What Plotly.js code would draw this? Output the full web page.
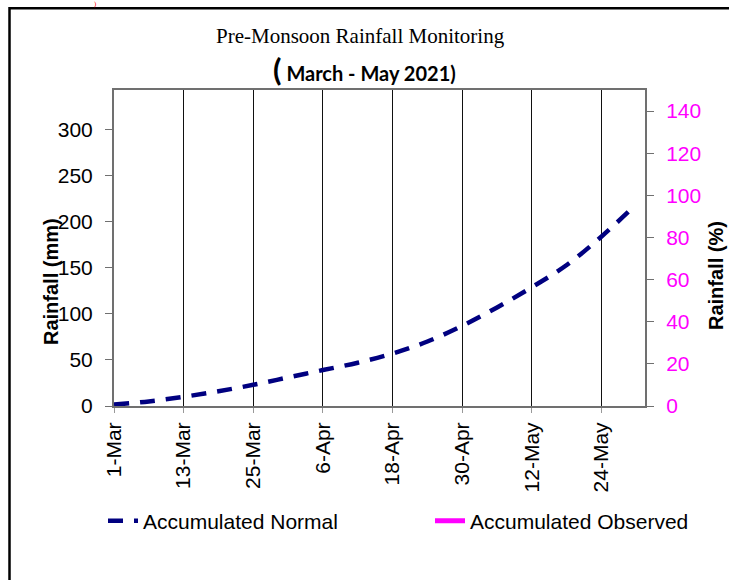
<!DOCTYPE html>
<html>
<head>
<meta charset="utf-8">
<script src="https://cdn.plot.ly/plotly-3.0.1.min.js"></script>
<style>
  html, body { margin: 0; padding: 0; background: #ffffff; }
  #chart { width: 729px; height: 580px; }
</style>
</head>
<body>
<div id="chart"></div>
<script>
// ---- data ----
const normalDates = ['2021-03-01','2021-03-07','2021-03-13','2021-03-19','2021-03-25','2021-03-31',
                     '2021-04-06','2021-04-12','2021-04-18','2021-04-24','2021-04-30','2021-05-06',
                     '2021-05-12','2021-05-18','2021-05-24','2021-05-29'];
const normalValues = [1.5, 5, 10, 16, 23, 31, 39, 47, 57, 70, 87, 107, 129, 153, 184, 213];
const observedDates = ['2021-03-01'];
const observedValues = [null];      // no observed data drawn in the reference
const percentValues = [null];       // right-axis (%) series, empty in the reference
const seriesNames = ['Accumulated Normal', 'Accumulated Observed'];
const titleLine1 = 'Pre-Monsoon Rainfall Monitoring';
const titleLine2 = 'March - May 2021)';
const leftTitle = 'Rainfall (mm)';
const rightTitle = 'Rainfall (%)';

// ---- layout helpers (pixel -> paper) ----
const W = 729, H = 580;
const M = { l: 114, r: 84, t: 90, b: 174 };
const PW = W - M.l - M.r, PH = H - M.t - M.b;
const px = x => (x - M.l) / PW;
const py = y => (H - M.b - y) / PH;

const traces = [
  {
    x: normalDates, y: normalValues, name: seriesNames[0],
    type: 'scatter', mode: 'lines', line: { color: '#000080', width: 4.5, dash: '15px,11px', shape: 'spline' },
    yaxis: 'y', legend: 'legend'
  },
  {
    x: observedDates, y: observedValues, name: seriesNames[1],
    type: 'scatter', mode: 'lines', line: { color: '#FF00FF', width: 5 },
    yaxis: 'y', legend: 'legend2'
  },
  {
    x: observedDates, y: percentValues, name: 'percent',
    type: 'scatter', mode: 'lines', line: { color: '#FF00FF', width: 2 },
    yaxis: 'y2', showlegend: false
  }
];

const tickFont = { family: 'Liberation Sans, Arial, sans-serif', size: 21, color: '#000000' };
const legendFont = { family: 'Liberation Sans, Arial, sans-serif', size: 21, color: '#000000' };

const layout = {
  width: W, height: H,
  margin: M,
  paper_bgcolor: '#ffffff', plot_bgcolor: '#ffffff',
  showlegend: true,
  legend: {
    orientation: 'h', x: px(103), xanchor: 'left', y: py(521), yanchor: 'middle',
    font: legendFont, bgcolor: 'rgba(0,0,0,0)'
  },
  legend2: {
    orientation: 'h', x: px(430), xanchor: 'left', y: py(521), yanchor: 'middle',
    font: legendFont, bgcolor: 'rgba(0,0,0,0)'
  },
  xaxis: {
    type: 'date',
    range: ['2021-03-01', '2021-05-31 11:45'],
    tick0: '2021-03-01', dtick: 12 * 86400000,
    tickformat: '%-d-%b', tickangle: -90,
    tickfont: tickFont,
    ticks: 'outside', ticklen: 5, tickcolor: '#999999', tickwidth: 1,
    ticklabelstandoff: 1,
    showgrid: true, gridcolor: '#111111', gridwidth: 1,
    showline: true, linecolor: '#707070', linewidth: 2, mirror: true,
    zeroline: false, fixedrange: true
  },
  yaxis: {
    range: [0, 343], dtick: 50, tick0: 0,
    tickfont: tickFont,
    ticks: 'outside', ticklen: 7, tickcolor: '#707070', tickwidth: 1,
    ticklabelstandoff: 8,
    showgrid: false, zeroline: false,
    showline: true, linecolor: '#707070', linewidth: 2, mirror: true
  },
  yaxis2: {
    overlaying: 'y', side: 'right', anchor: 'x',
    range: [0, 150], dtick: 20, tick0: 0,
    tickfont: { family: 'Liberation Sans, Arial, sans-serif', size: 21, color: '#FF00FF' },
    ticks: 'outside', ticklen: 7, tickcolor: '#707070', tickwidth: 1,
    ticklabelstandoff: 8,
    showgrid: false, zeroline: false,
    showline: true, linecolor: '#707070', linewidth: 2
  },
  shapes: [
    { type: 'rect', xref: 'paper', yref: 'paper', x0: px(9.5), x1: px(760), y0: py(620), y1: py(8.3),
      line: { color: '#000000', width: 2.5 }, fillcolor: 'rgba(0,0,0,0)', layer: 'below' }
  ],
  annotations: [
    { xref: 'paper', yref: 'paper', x: px(360), y: py(36), xanchor: 'center', yanchor: 'middle',
      text: titleLine1, showarrow: false,
      font: { family: 'Liberation Serif, Times New Roman, serif', size: 21, color: '#000000' } },
    { xref: 'paper', yref: 'paper', x: px(364), y: py(69), xanchor: 'center', yanchor: 'middle',
      text: '<span style="font-size:31px">(</span> ' + titleLine2, showarrow: false,
      font: { family: 'Lato, Open Sans, sans-serif', size: 20, color: '#000000', weight: 700 } },
    { xref: 'paper', yref: 'paper', x: px(51), y: py(282), xanchor: 'center', yanchor: 'middle',
      text: leftTitle, textangle: -90, showarrow: false,
      font: { family: 'Liberation Sans, Arial, sans-serif', size: 20, color: '#000000', weight: 700 } },
    { xref: 'paper', yref: 'paper', x: px(716), y: py(276), xanchor: 'center', yanchor: 'middle',
      text: rightTitle, textangle: -90, showarrow: false,
      font: { family: 'Liberation Sans, Arial, sans-serif', size: 20, color: '#000000', weight: 700 } },
    { xref: 'paper', yref: 'paper', x: px(95), y: py(3.5), xanchor: 'center', yanchor: 'middle',
      text: ')', showarrow: false,
      font: { family: 'Liberation Serif, serif', size: 7, color: '#FF0000' } }
  ]
};

Plotly.newPlot('chart', traces, layout, { staticPlot: true, displayModeBar: false });
</script>
</body>
</html>
